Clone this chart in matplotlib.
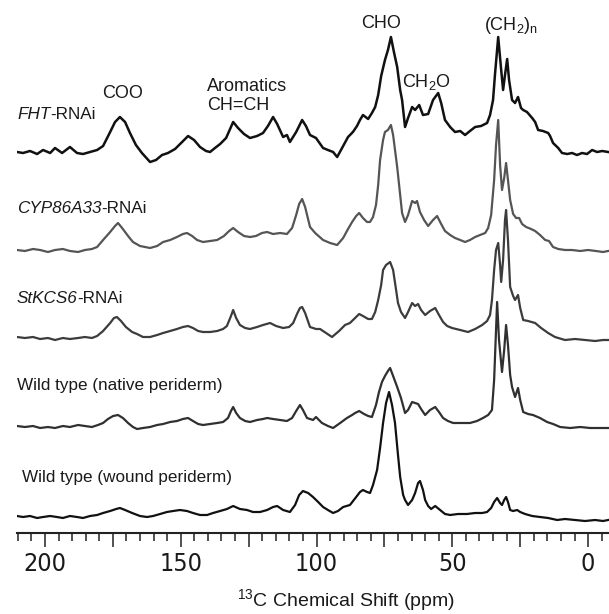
#13C CP-MAS NMR spectra of potato periderm, stacked
import matplotlib
matplotlib.use('Agg')
import matplotlib.pyplot as plt
from matplotlib.ticker import MultipleLocator, FuncFormatter

plt.rcParams['font.family'] = ['Liberation Sans', 'DejaVu Sans']
plt.rcParams['mathtext.fontset'] = 'custom'
plt.rcParams['mathtext.rm'] = 'Liberation Sans'
plt.rcParams['mathtext.it'] = 'Liberation Sans:italic'

#spectra: chemical shift (ppm) and intensity above baseline (a.u.)
fht_ppm = [210.3, 208.1, 205.5, 202.9, 200.7, 198.1, 196.3, 193.7, 190.8, 188.2, 186.0, 183.4, 180.8,
           178.6, 176.0, 174.2, 172.4, 170.5, 168.7, 166.5, 164.3, 161.3, 159.1, 156.9, 154.7, 152.1,
           149.5, 147.3, 145.1, 142.9, 140.7, 139.2, 137.4, 135.5, 133.3, 130.7, 128.9, 126.7, 124.5,
           121.9, 119.7, 117.9, 116.0, 114.5, 112.3, 110.9, 109.8, 107.5, 105.3, 103.9, 102.4, 100.2,
           97.6, 95.8, 93.9, 92.4, 90.6, 88.4, 86.6, 85.1, 84.0, 82.9, 81.0, 79.6, 78.4, 77.3, 76.2,
           74.8, 73.7, 72.6, 71.5, 70.3, 69.2, 68.5, 67.4, 66.3, 64.8, 63.7, 62.2, 60.8, 58.9, 57.1,
           55.2, 54.1, 52.7, 50.8, 49.0, 47.1, 45.3, 43.5, 41.6, 39.4, 37.2, 36.1, 35.0, 34.3, 33.1,
           32.0, 31.3, 30.6, 29.8, 29.1, 28.0, 26.9, 25.8, 24.7, 23.9, 22.5, 20.6, 19.5, 18.4, 16.6,
           14.7, 14.0, 12.9, 11.0, 9.6, 7.7, 5.9, 4.1, 2.2, 0.4, -1.5, -3.3, -5.2, -7.4]
fht_int = [0, -1, 1, -2, 2, -1, 4, -1, 5, -1, -2, 0, 2,
           6, 20, 30, 35, 30, 19, 7, -1, -10, -8, -3, -1, 3,
           10, 16, 12, 5, 1, 0, 4, 8, 14, 30, 24, 18, 14,
           16, 19, 26, 35, 28, 15, 17, 10, 20, 32, 26, 17, 14,
           4, 2, 0, -5, 4, 15, 20, 26, 32, 37, 33, 39, 45, 57, 76,
           92, 102, 115, 100, 85, 62, 52, 25, 34, 45, 42, 47, 37, 38, 52,
           59, 49, 32, 25, 20, 21, 17, 21, 25, 26, 29, 37, 52, 77, 115,
           82, 62, 77, 93, 72, 52, 49, 55, 44, 42, 40, 34, 30, 22, 21,
           19, 16, 9, 4, -1, -2, -1, -3, -1, -2, 2, 0, 1, 0]

cyp_ppm = [210.3, 207.4, 204.4, 201.8, 198.9, 196.3, 193.4, 190.8, 187.8, 185.3, 182.7, 180.8, 178.6,
           176.0, 174.2, 173.1, 171.6, 169.4, 167.6, 165.0, 161.3, 158.7, 156.5, 153.9, 151.4, 149.2,
           147.7, 145.8, 144.0, 141.8, 139.2, 136.6, 134.1, 132.2, 130.7, 128.9, 126.7, 124.5, 122.3,
           120.1, 118.2, 116.0, 113.4, 110.9, 109.0, 107.5, 106.4, 105.3, 104.2, 102.4, 100.5, 97.6,
           95.0, 92.4, 90.2, 88.4, 86.9, 85.4, 84.3, 82.9, 81.4, 80.3, 79.2, 78.1, 77.3, 76.6, 75.5,
           74.8, 73.7, 72.6, 71.8, 71.1, 70.3, 69.2, 68.5, 67.4, 66.3, 64.8, 63.7, 63.0, 61.9, 60.4,
           58.9, 57.1, 55.6, 54.1, 52.7, 50.8, 49.0, 47.1, 45.3, 43.5, 41.6, 39.8, 37.9, 36.8, 35.7,
           34.6, 33.9, 33.1, 32.4, 31.7, 30.9, 30.2, 29.5, 28.7, 27.6, 26.5, 25.4, 24.3, 22.8, 21.0,
           19.5, 17.7, 15.8, 14.4, 12.9, 11.0, 8.5, 5.9, 2.9, 0.0, -2.9, -5.5, -7.4]
cyp_int = [0, -1, 1, 0, -2, 0, 1, -1, -2, 0, 1, 3, 10,
           18, 24, 27, 22, 14, 8, 4, 2, 4, 8, 10, 13, 16,
           17, 14, 10, 8, 9, 10, 14, 19, 22, 18, 14, 13, 14,
           17, 18, 16, 17, 16, 22, 35, 46, 51, 43, 23, 17, 10,
           7, 5, 12, 21, 28, 34, 37, 32, 28, 28, 33, 45, 65, 90, 110,
           118, 120, 125, 115, 100, 83, 55, 37, 28, 35, 49, 47, 49, 38, 30,
           24, 30, 34, 26, 19, 15, 12, 10, 8, 10, 13, 15, 17, 22, 35,
           70, 105, 130, 85, 60, 72, 87, 70, 50, 36, 32, 32, 26, 23, 21,
           19, 15, 10, 9, 3, 1, 0, 0, -1, 0, -1, -2, -1]

kcs_ppm = [210.3, 207.4, 204.4, 201.8, 198.9, 196.3, 193.4, 190.8, 187.8, 185.3, 182.7, 180.8, 178.6,
           176.0, 174.6, 173.5, 172.0, 170.2, 167.9, 166.1, 163.9, 161.3, 158.7, 156.5, 153.9, 151.4,
           149.2, 147.3, 145.5, 143.6, 141.8, 139.2, 136.6, 134.4, 133.0, 131.5, 130.7, 129.6, 128.2,
           126.3, 124.5, 121.9, 119.7, 117.1, 114.9, 112.3, 110.1, 108.6, 107.2, 106.1, 105.3, 104.2,
           102.4, 100.2, 98.7, 96.5, 94.3, 91.7, 89.5, 87.7, 85.8, 84.3, 82.9, 81.0, 79.6, 78.4, 77.3,
           76.2, 75.5, 74.4, 72.9, 71.8, 70.7, 70.0, 68.9, 67.4, 66.3, 64.8, 63.7, 62.6, 61.5, 60.0,
           58.2, 56.3, 54.9, 53.4, 51.9, 50.1, 47.1, 44.2, 41.6, 39.0, 37.2, 36.1, 35.4, 34.6, 33.9,
           33.1, 32.4, 32.0, 31.3, 30.6, 30.2, 29.5, 28.7, 27.6, 26.9, 25.8, 25.0, 23.9, 22.1, 19.5,
           17.3, 14.7, 12.2, 8.5, 4.8, 1.1, -2.6, -5.5, -7.4]
kcs_int = [1, 0, 1, -1, 0, -2, 0, -1, 0, 1, 0, 2, 7,
           15, 20, 21, 17, 11, 6, 4, 1, 1, 3, 5, 7, 9,
           11, 12, 10, 7, 6, 6, 7, 9, 12, 22, 28, 20, 13,
           10, 9, 11, 13, 15, 12, 10, 11, 15, 24, 30, 31, 25,
           11, 9, 9, 5, 1, 7, 13, 15, 20, 24, 22, 19, 19, 26, 38,
           53, 68, 73, 76, 68, 48, 35, 26, 20, 26, 35, 32, 34, 28, 23,
           27, 30, 23, 16, 12, 10, 8, 6, 9, 13, 17, 23, 38, 68, 88,
           95, 73, 56, 78, 118, 128, 98, 51, 42, 38, 43, 30, 18, 17, 15,
           10, 5, 1, -2, -1, -2, -3, -2, -2]

nat_ppm = [210.3, 207.4, 204.4, 201.8, 198.9, 196.3, 193.4, 190.8, 187.8, 185.3, 182.7, 180.5, 178.6,
           176.8, 174.9, 173.1, 171.3, 169.4, 167.6, 166.1, 163.9, 161.3, 158.7, 156.5, 153.9, 151.4,
           149.2, 147.3, 145.5, 143.6, 141.8, 139.2, 136.6, 134.4, 132.6, 131.5, 130.7, 129.6, 128.2,
           126.3, 124.5, 121.9, 119.7, 118.2, 116.0, 113.4, 110.9, 109.0, 107.5, 106.1, 105.0, 103.5,
           101.3, 100.2, 98.0, 95.8, 93.9, 91.3, 88.8, 86.9, 85.8, 84.3, 82.5, 81.0, 79.6, 78.1, 77.0,
           75.9, 74.8, 73.7, 72.9, 71.8, 70.3, 68.9, 67.4, 66.3, 64.8, 63.7, 62.6, 61.5, 60.0, 58.2,
           56.3, 54.9, 53.4, 51.6, 49.7, 46.4, 43.5, 40.9, 38.7, 36.8, 35.4, 34.6, 33.9, 33.5, 32.8,
           31.7, 30.9, 30.2, 29.5, 28.7, 28.0, 26.9, 25.8, 25.0, 23.9, 22.1, 20.3, 17.7, 15.1, 12.9,
           10.3, 6.6, 2.9, -0.7, -4.4, -7.4]
nat_int = [1, 0, 1, -1, 0, -1, 1, 0, 2, 1, 0, 2, 4,
           8, 11, 12, 9, 4, 0, -2, -1, 0, 2, 3, 5, 6,
           8, 9, 6, 3, 2, 3, 4, 5, 9, 16, 20, 14, 9,
           6, 5, 7, 8, 9, 8, 7, 6, 9, 16, 22, 17, 9,
           7, 10, 4, 1, -1, 4, 9, 12, 14, 16, 13, 11, 10, 22, 35,
           45, 51, 56, 59, 51, 40, 29, 14, 17, 25, 24, 23, 18, 12, 17,
           20, 15, 9, 6, 4, 4, 4, 6, 9, 12, 17, 47, 97, 125, 87,
           55, 77, 102, 82, 52, 40, 30, 39, 27, 15, 13, 12, 9, 5, 3,
           0, -1, 0, -1, -1, -1]

wnd_ppm = [210.3, 208.1, 205.5, 202.9, 200.7, 198.1, 195.6, 193.4, 190.8, 188.2, 186.0, 183.4, 180.8,
           178.6, 176.0, 173.8, 172.4, 170.5, 167.9, 165.0, 162.4, 160.2, 157.6, 155.1, 152.8, 150.3,
           147.7, 145.5, 142.9, 140.3, 138.1, 135.5, 133.0, 130.7, 128.2, 125.6, 123.4, 120.8, 118.2,
           116.0, 114.5, 112.3, 109.8, 107.9, 106.4, 105.0, 103.1, 101.3, 99.4, 97.6, 95.8, 93.9,
           92.1, 90.2, 87.7, 85.4, 84.0, 82.9, 81.4, 80.3, 79.2, 77.7, 76.6, 75.5, 74.4, 73.3, 72.2,
           71.1, 70.0, 69.2, 68.1, 67.4, 66.3, 64.8, 63.7, 62.6, 61.9, 60.8, 60.0, 58.9, 57.8, 56.3,
           54.5, 52.7, 50.8, 47.9, 44.6, 41.6, 39.0, 37.2, 35.7, 34.6, 33.5, 32.4, 31.7, 30.9, 30.2,
           29.5, 28.7, 27.6, 26.1, 25.0, 23.2, 20.6, 17.7, 14.7, 11.4, 8.5, 4.8, 1.1, -2.6, -5.5, -7.4]
wnd_int = [1, 0, 1, -1, 0, 1, 0, -1, 1, 0, -1, 1, 2,
           4, 6, 8, 9, 7, 4, 1, 0, 1, 3, 5, 6, 7,
           6, 4, 2, 2, 4, 6, 8, 11, 8, 7, 5, 5, 7,
           10, 11, 7, 5, 12, 22, 26, 24, 20, 15, 10, 7, 4,
           6, 10, 12, 20, 25, 27, 25, 24, 32, 47, 69, 94, 114, 125, 112,
           94, 62, 40, 22, 17, 12, 17, 24, 34, 36, 27, 17, 11, 8, 11,
           7, 3, 2, 3, 3, 4, 4, 5, 9, 15, 19, 14, 12, 17, 20,
           15, 7, 6, 7, 5, 3, 1, 0, -1, -3, -2, -3, -4, -3, -4, -3]

spectra = [(fht_ppm, fht_int), (cyp_ppm, cyp_int), (kcs_ppm, kcs_int), (nat_ppm, nat_int), (wnd_ppm, wnd_int)]
#label of each trace: italic gene name part, upright part
names = [('FHT', '-RNAi'), ('CYP86A33', '-RNAi'), ('StKCS6', '-RNAi'),
         ('', 'Wild type (native periderm)'), ('', 'Wild type (wound periderm)')]

#vertical stacking, colours and line widths
offsets = [381, 283, 195, 106, 16]
colours = ['#111111', '#555555', '#3c3c3c', '#303030', '#111111']
widths = [1.8, 1.6, 1.6, 1.6, 1.6]
label_pos = [(210.3, 414), (210.3, 320), (210.3, 230), (210.3, 143), (208.5, 51)]

fig = plt.figure(figsize=(6.09, 6.14), dpi=100)
ax = fig.add_axes([17/609, 1-533/614, 1-17/609, 533/614])

for (ppm, inten), off, c, lw in zip(spectra, offsets, colours, widths):
    ax.plot(ppm, [off + v for v in inten], color=c, lw=lw, solid_joinstyle='round')

for (it, rest), (px, py) in zip(names, label_pos):
    if it:
        t = ax.text(px, py, it, fontsize=12.3, style='italic', color='#1a1a1a', ha='left', va='baseline')
        ax.annotate(rest, xy=(1, 0), xycoords=t, fontsize=12.3, color='#1a1a1a', ha='left', va='bottom')
    else:
        ax.text(px, py, rest, fontsize=12.3, color='#1a1a1a', ha='left', va='baseline')

#peak assignments
ax.text(171.3, 435, 'COO', fontsize=13, color='#1a1a1a', ha='center', va='baseline')
ax.text(140.3, 442, 'Aromatics', fontsize=13, color='#1a1a1a', ha='left', va='baseline')
ax.text(140.3, 423, 'CH=CH', fontsize=13, color='#1a1a1a', ha='left', va='baseline')
ax.text(76.2, 505, 'CHO', fontsize=13, color='#1a1a1a', ha='center', va='baseline')
ax.text(59.6, 446, r'CH$_2$O', fontsize=13, color='#1a1a1a', ha='center', va='baseline')
ax.text(28.5, 503, r'(CH$_2$)$_\mathrm{n}$', fontsize=13, color='#1a1a1a', ha='center', va='baseline')

ax.set_xlim(210.3, -7.7)
ax.set_ylim(0, 533)

#only the bottom axis is drawn
for s in ['top', 'right', 'left']:
    ax.spines[s].set_visible(False)
ax.spines['bottom'].set_linewidth(1.5)
ax.spines['bottom'].set_color('#222222')
ax.set_yticks([])

ax.xaxis.set_major_locator(MultipleLocator(25))
ax.xaxis.set_minor_locator(MultipleLocator(5))
ax.xaxis.set_major_formatter(FuncFormatter(lambda v, p: '%d' % v if v % 50 == 0 else ''))
ax.tick_params(axis='x', which='major', direction='out', length=10, width=1.1, color='#222222', pad=4)
ax.tick_params(axis='x', which='minor', direction='out', length=5.5, width=1.1, color='#222222')
for lab in ax.get_xticklabels():
    lab.set_family('DejaVu Sans')
    lab.set_stretch('condensed')
    lab.set_fontsize(18)
    lab.set_color('#1a1a1a')

fig.text(346/609, 1-600/614, r'$^{13}$C Chemical Shift (ppm)', fontsize=14, color='#1a1a1a',
         ha='center', va='center')

fig.savefig('out.png', dpi=100)
